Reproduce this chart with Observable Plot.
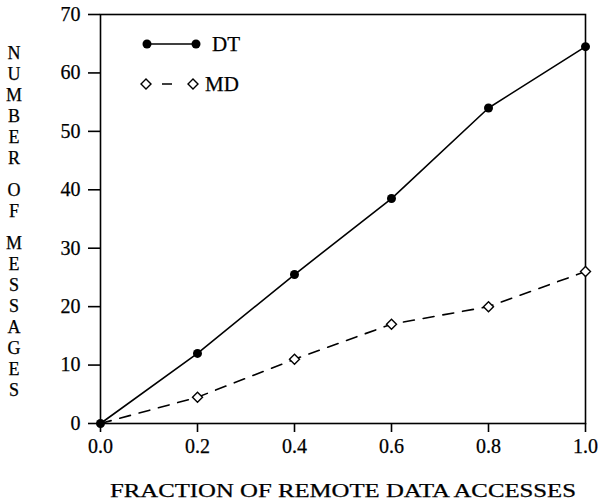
<!DOCTYPE html>
<html><head><meta charset="utf-8">
<script src="https://cdn.jsdelivr.net/npm/d3@7"></script>
<script src="https://cdn.jsdelivr.net/npm/@observablehq/plot@0.6"></script>
<style>
body{margin:0;background:#fff}
#c{position:relative;width:608px;height:501px}
#c svg{position:absolute;left:0;top:0}
#c svg text{font-family:'Liberation Serif',serif !important;fill:#000;stroke:#000;stroke-width:0.25px}
</style>
</head><body><div id="c"></div>
<script>
const fractions = [0, 0.2, 0.4, 0.6, 0.8, 1.0];
const dtMessages = [0, 12, 25.5, 38.5, 54, 64.5];
const mdMessages = [0, 4.5, 11, 17, 20, 26];
const xTicks = [0, 0.2, 0.4, 0.6, 0.8, 1.0];
const yTicks = [0, 10, 20, 30, 40, 50, 60, 70];
const seriesNames = ["DT", "MD"];
const xLabel = "FRACTION OF REMOTE DATA ACCESSES";
const yLabel = "NUMBER OF MESSAGES";

const FONT = "'Liberation Serif', serif";
const dt = fractions.map((f, i) => ({x: f, y: dtMessages[i]}));
const md = fractions.map((f, i) => ({x: f, y: mdMessages[i]}));

const chart = Plot.plot({
  width: 608, height: 501,
  marginLeft: 100, marginRight: 23, marginTop: 14, marginBottom: 78,
  style: {fontFamily: FONT, fontSize: "19px", color: "#000", background: "transparent"},
  x: {domain: [0, 1]},
  y: {domain: [0, 70]},
  marks: [
    Plot.frame({stroke: "#000", strokeWidth: 1.6}),
    Plot.axisX({ticks: xTicks, tickFormat: d3.format(".1f"), tickSize: 9, tickPadding: 6, label: null, strokeWidth: 1.6, fontSize: 20}),
    Plot.axisY({ticks: yTicks, tickFormat: d3.format("d"), tickSize: 12, tickPadding: 8, label: null, strokeWidth: 1.6, fontSize: 20}),
    Plot.line(md, {x: "x", y: "y", stroke: "#000", strokeWidth: 1.6, strokeDasharray: "11,9"}),
    Plot.line(dt, {x: "x", y: "y", stroke: "#000", strokeWidth: 1.6}),
    Plot.dot(md.slice(1), {x: "x", y: "y", symbol: "diamond2", r: 4.5, stroke: "#000", fill: "#fff", strokeWidth: 1.4}),
    Plot.dot(dt, {x: "x", y: "y", r: 4.5, fill: "#000", stroke: "none"})
  ]
});
document.getElementById("c").appendChild(chart);

// overlay: legend, axis titles
const ov = d3.select("#c").append("svg").attr("width", 608).attr("height", 501)
  .attr("font-family", FONT).style("pointer-events", "none");

// Legend
const lg = ov.append("g");
// DT
lg.append("line").attr("x1", 147).attr("x2", 196).attr("y1", 44).attr("y2", 44).attr("stroke", "#000").attr("stroke-width", 1.6);
[147, 196].forEach(x => lg.append("circle").attr("cx", x).attr("cy", 44).attr("r", 4.5).attr("fill", "#000"));
lg.append("text").attr("x", 212).attr("y", 44).attr("dy", "0.35em").attr("font-size", 21).text(seriesNames[0]);
// MD
lg.append("line").attr("x1", 146).attr("x2", 193).attr("y1", 84).attr("y2", 84).attr("stroke", "#000").attr("stroke-width", 1.6).attr("stroke-dasharray", "5,11,10,30");
const diamond = d3.symbol(d3.symbolDiamond2, 4.5 * 4.5 * Math.PI)();
[146, 193].forEach(x => lg.append("path").attr("d", diamond).attr("transform", `translate(${x},84)`).attr("fill", "#fff").attr("stroke", "#000").attr("stroke-width", 1.4));
lg.append("text").attr("x", 205).attr("y", 84).attr("dy", "0.35em").attr("font-size", 21).text(seriesNames[1]);

// X title
ov.append("text").attr("x", 343).attr("y", 490).attr("dy", "0.35em").attr("text-anchor", "middle")
  .attr("font-size", 19).attr("textLength", 466).attr("lengthAdjust", "spacingAndGlyphs").text(xLabel);

// Y title, stacked letters
let yy = 53;
const pitch = 21, gap = 11;
for (const ch of yLabel) {
  if (ch === " ") { yy += gap; continue; }
  ov.append("text").attr("x", 14).attr("y", yy).attr("dy", "0.35em").attr("text-anchor", "middle")
    .attr("font-size", 18).text(ch);
  yy += pitch;
}
</script>
</body></html>
